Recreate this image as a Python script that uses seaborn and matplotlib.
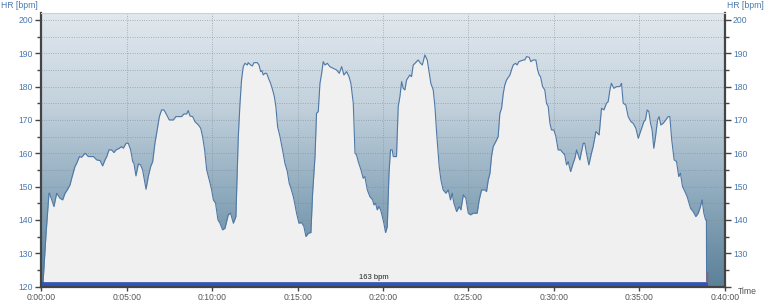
import numpy as np
import pandas as pd
import matplotlib
matplotlib.use("Agg")
import matplotlib.pyplot as plt
from matplotlib.colors import LinearSegmentedColormap
from matplotlib.ticker import FuncFormatter, MultipleLocator
import seaborn as sns

# ---- data (time in minutes, heart rate in bpm) ----
time_min = [0.10, 0.28, 0.45, 0.48, 0.74, 0.90, 1.09, 1.25, 1.39, 1.52, 1.68, 1.78, 1.97, 2.07, 2.23,
            2.36, 2.56, 2.75, 3.05, 3.24, 3.44, 3.59, 3.73, 3.83, 3.96, 4.12, 4.25, 4.37, 4.57, 4.70,
            4.80, 4.96, 5.09, 5.23, 5.35, 5.42, 5.54, 5.68, 5.81, 5.93, 6.13, 6.26, 6.40, 6.52, 6.65,
            6.75, 6.91, 7.04, 7.18, 7.34, 7.49, 7.73, 7.88, 8.21, 8.35, 8.51, 8.60, 8.70, 8.86, 8.99,
            9.19, 9.33, 9.44, 9.56, 9.68, 9.83, 9.97, 10.07, 10.20, 10.34, 10.46, 10.61, 10.75, 10.94,
            11.08, 11.24, 11.39, 11.53, 11.63, 11.72, 11.82, 11.92, 12.06, 12.11, 12.25, 12.35, 12.45,
            12.64, 12.74, 12.84, 12.91, 12.99, 13.09, 13.19, 13.32, 13.42, 13.54, 13.64, 13.73, 13.83,
            13.97, 14.12, 14.26, 14.40, 14.51, 14.61, 14.75, 14.85, 14.94, 15.08, 15.24, 15.37, 15.49,
            15.63, 15.78, 15.88, 16.02, 16.11, 16.21, 16.31, 16.41, 16.50, 16.60, 16.74, 16.89, 17.09,
            17.28, 17.44, 17.58, 17.71, 17.87, 18.01, 18.12, 18.26, 18.36, 18.45, 18.55, 18.71, 18.84,
            18.94, 19.08, 19.23, 19.39, 19.47, 19.57, 19.66, 19.76, 19.86, 19.96, 20.05, 20.15, 20.25,
            20.35, 20.44, 20.54, 20.60, 20.79, 20.89, 20.99, 21.09, 21.18, 21.28, 21.38, 21.57, 21.67,
            21.77, 21.87, 22.06, 22.20, 22.30, 22.45, 22.59, 22.71, 22.80, 22.94, 23.04, 23.14, 23.29,
            23.39, 23.52, 23.68, 23.82, 23.95, 24.05, 24.15, 24.31, 24.46, 24.56, 24.70, 24.85, 24.99,
            25.12, 25.28, 25.51, 25.63, 25.77, 25.96, 26.06, 26.16, 26.26, 26.35, 26.45, 26.65, 26.74,
            26.84, 26.94, 27.04, 27.13, 27.23, 27.43, 27.52, 27.62, 27.76, 27.85, 27.95, 28.21, 28.30,
            28.40, 28.56, 28.65, 28.79, 28.95, 29.05, 29.14, 29.22, 29.34, 29.47, 29.57, 29.67, 29.77,
            29.86, 30.00, 30.12, 30.25, 30.39, 30.55, 30.64, 30.74, 30.84, 30.98, 31.13, 31.23, 31.33,
            31.52, 31.72, 31.81, 31.91, 32.05, 32.20, 32.30, 32.46, 32.65, 32.79, 32.93, 33.08, 33.18,
            33.28, 33.37, 33.51, 33.67, 33.86, 33.96, 34.06, 34.21, 34.35, 34.51, 34.64, 34.80, 34.94,
            35.07, 35.27, 35.36, 35.46, 35.56, 35.66, 35.75, 35.85, 35.95, 36.07, 36.16, 36.26, 36.40,
            36.55, 36.69, 36.79, 36.90, 37.04, 37.18, 37.31, 37.41, 37.53, 37.67, 37.80, 38.00, 38.15,
            38.31, 38.45, 38.58, 38.68, 38.78, 38.88, 38.93, 38.94]
hr_bpm = [121, 136, 148, 148, 144, 148, 146.5, 146, 148, 149, 150.5, 152.5, 156, 157, 159,
          158.8, 160, 159, 159, 158, 157.8, 156.2, 158, 159, 161, 161, 160.2, 161, 161.5, 162,
          161.5, 163, 163, 161, 157.5, 157, 153.2, 156.8, 156.5, 155, 149.2, 153, 156, 157.5, 163,
          166, 171, 173, 173, 171.5, 170, 170, 171, 171, 171.8, 171.8, 172.8, 171.2, 171, 169.5,
          168.5, 167.5, 165, 161, 155, 152, 149, 146, 145, 140, 139, 137, 137.5, 141.5,
          142, 139, 141, 165, 175, 182, 186, 187, 186.5, 187.2, 186.5, 186.2, 187.2,
          187.2, 186.5, 184.5, 184.8, 183.5, 184, 184, 182.2, 181, 179, 177, 174, 168,
          165, 161, 157, 154.5, 151, 149.5, 147, 144.5, 142, 139, 139.2, 138, 135,
          136, 136.2, 148, 159, 172, 172.5, 181, 184, 187.5, 186.5, 187, 186, 185.5,
          185, 184, 186, 183.5, 184.5, 183, 181, 175, 160, 159.5, 157.5, 155, 152.5,
          153, 149, 147, 146, 144.5, 145, 143, 144, 143, 141, 139, 136.2, 138,
          154, 161, 161, 159, 159, 174, 177, 181.5, 179.5, 179, 182, 183.5, 183,
          186.5, 187, 188, 187, 186.5, 189.5, 188, 184, 181, 179, 174, 166, 156,
          152, 149, 148, 149, 146, 148, 145, 142.5, 144, 143, 147.5, 146.5, 142,
          141.5, 142, 142, 146, 149, 149, 148.5, 152, 154, 159, 162, 164, 165,
          172, 173.5, 178, 180.5, 182, 183.5, 185, 186.5, 187, 186.5, 187.5, 188, 188,
          189, 188.8, 187.5, 188, 188, 185, 183.5, 183, 180, 179, 175, 174, 169,
          167, 167, 165, 161, 161, 160, 159.5, 156.5, 157.5, 154.5, 157, 158.5, 161,
          158, 163, 163, 160, 156.5, 160, 162, 166.5, 165.5, 173.5, 173, 175, 175.5,
          179, 181, 179.5, 180, 180, 181, 175, 174.5, 171, 169.5, 169, 167.5, 164.5,
          166.5, 169.5, 170, 173, 172.5, 169, 167, 161.5, 165, 170, 171, 168.5, 169,
          170, 171, 171, 164, 158, 157.5, 153, 154, 150, 148.5, 147, 143.5, 142.5,
          141, 142, 144, 146, 142, 140, 140, 121.5]

avg_label = "163 bpm"
avg_end_min = 38.94
y_ticks = [120, 130, 140, 150, 160, 170, 180, 190, 200]
y_grid = [125, 130, 135, 140, 145, 150, 155, 160, 165, 170, 175, 180, 185, 190, 195, 200]
x_ticks_min = [0, 5, 10, 15, 20, 25, 30, 35, 40]

df = pd.DataFrame({"time": time_min, "hr": hr_bpm})

sns.set_theme(style="white")
plt.rcParams["font.family"] = ["Liberation Sans", "DejaVu Sans"]

fig = plt.figure(figsize=(7.65, 3.08), dpi=100)
ax = fig.add_axes([41.3 / 765, 1 - 286.5 / 308, (724.7 - 41.3) / 765, (286.5 - 13) / 308])

ymin, ymax = 120, 202.1
xmin, xmax = 0, 40

# gradient background
cmap = LinearSegmentedColormap.from_list("bg", ["#5b8199", "#8eaabd", "#c3d2dd", "#e2e8ee"])
grad = np.linspace(0, 1, 256).reshape(-1, 1)
ax.imshow(grad, extent=[xmin, xmax, ymin, ymax], origin="lower", aspect="auto",
          cmap=cmap, zorder=0, interpolation="bicubic")

# dotted grid (under the filled area)
grid_style = dict(color="#7f8890", alpha=0.75, linestyle=(0, (1.0, 1.8)), linewidth=0.6, zorder=0.5)
ax.hlines(y_grid, xmin, xmax, **grid_style)
ax.vlines(x_ticks_min[1:-1], ymin, ymax, **grid_style)

# area under curve
ax.fill_between(df["time"], df["hr"], ymin, color="#f0f0f0", zorder=1, linewidth=0)
sns.lineplot(data=df, x="time", y="hr", ax=ax, color="#4f78a6", linewidth=0.8,
             estimator=None, sort=False, zorder=2)

# average bar
ax.fill_between([0, avg_end_min], [ymin, ymin], [ymin + 1.3, ymin + 1.3],
                color="#2b56c2", edgecolor="#1f3f96", linewidth=0.4, zorder=3)
ax.text(avg_end_min / 2, ymin + 1.6, avg_label, ha="center", va="bottom",
        fontsize=5.5, color="#222222", zorder=4)
ax.plot([avg_end_min + 0.02, avg_end_min + 0.02], [ymin + 1.3, ymin + 4.5],
        color="#e04040", linewidth=1.0, zorder=3)

ax.set_xlim(xmin, xmax)
ax.set_ylim(ymin, ymax)
ax.set_xticks(x_ticks_min)
ax.xaxis.set_major_formatter(FuncFormatter(lambda v, p: f"{int(v // 60)}:{int(v % 60):02d}:00"))
ax.set_yticks(y_ticks)
ax.yaxis.set_minor_locator(MultipleLocator(5))
ax.grid(False)

ax.set_xlabel("")
ax.set_ylabel("")
ax.tick_params(axis="y", which="major", direction="out", length=4, width=1, color="#444444",
               labelsize=6.2, labelcolor="#4a78b0", left=True, right=True,
               labelleft=True, labelright=True, pad=2)
ax.tick_params(axis="y", which="minor", direction="out", length=3, width=1, color="#444444",
               left=True, right=True)
ax.tick_params(axis="x", which="major", direction="out", length=3, width=1, color="#444444",
               labelsize=6.2, labelcolor="#555555", bottom=True, pad=2)

fig.canvas.draw()
# the right axis shows no label at 120 (the "Time" caption sits there)
for t in ax.yaxis.get_major_ticks():
    if abs(t.get_loc() - ymin) < 1e-6:
        t.label2.set_visible(False)

for side in ["left", "right", "bottom"]:
    ax.spines[side].set_color("#444444")
    ax.spines[side].set_linewidth(1.6)
ax.spines["top"].set_color("#c8d0d8")
ax.spines["top"].set_linewidth(0.8)
for sp in ax.spines.values():
    sp.set_zorder(5)

fig.text(1 / 765, 1 - 6 / 308, "HR [bpm]", fontsize=6.2, color="#4a78b0", ha="left", va="center")
fig.text(764 / 765, 1 - 6 / 308, "HR [bpm]", fontsize=6.2, color="#4a78b0", ha="right", va="center")
fig.text(738 / 765, 1 - 291 / 308, "Time", fontsize=6.2, color="#555555", ha="left", va="center")

fig.savefig("out.png", dpi=100)
